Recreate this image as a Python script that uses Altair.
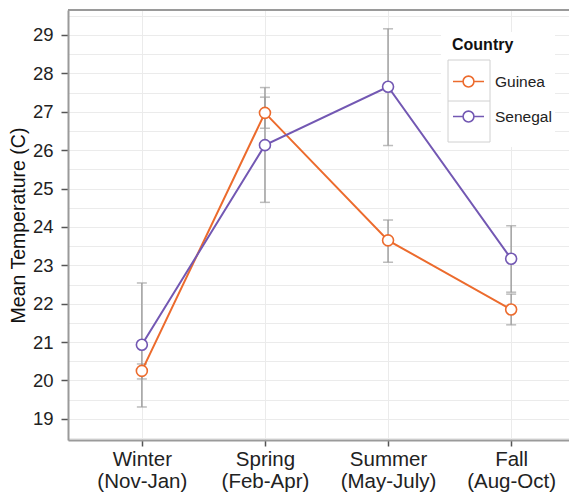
import json
import altair as alt
import pandas as pd

seasons = ["Winter (Nov-Jan)", "Spring (Feb-Apr)", "Summer (May-July)", "Fall (Aug-Oct)"]
guinea_mean = [20.25, 26.97, 23.65, 21.85]
guinea_low = [20.04, 26.57, 23.08, 21.45]
guinea_high = [20.43, 27.38, 24.18, 22.25]
senegal_mean = [20.93, 26.13, 27.65, 23.17]
senegal_low = [19.31, 24.64, 26.12, 22.30]
senegal_high = [22.54, 27.63, 29.16, 24.03]
countries = ["Guinea", "Senegal"]
colors = ["#EC6B2D", "#7358B3"]
y_ticks = list(range(19, 30))

rows = []
for i, s in enumerate(seasons):
    rows.append({"Season": s, "idx": i, "Country": "Guinea", "mean": guinea_mean[i],
                 "low": guinea_low[i], "high": guinea_high[i]})
for i, s in enumerate(seasons):
    rows.append({"Season": s, "idx": i, "Country": "Senegal", "mean": senegal_mean[i],
                 "low": senegal_low[i], "high": senegal_high[i]})
df = pd.DataFrame(rows)

grid_vals = [v / 2 for v in range(37, 60)]
FONT = "Liberation Sans"
BORDER = "#9A9A9A"
W, H = 509, 430

x_axis = alt.Axis(values=list(range(len(seasons))),
                  labelExpr="split(" + json.dumps(seasons) + "[datum.value], ' ')",
                  labelAngle=0, labelFontSize=20.5, labelLineHeight=22, labelColor="#222",
                  labelPadding=3, tickSize=6, tickColor="#555", tickWidth=1.5,
                  grid=True, gridColor="#EBEBEB", gridWidth=1,
                  domain=True, domainColor=BORDER, domainWidth=2,
                  labelFont=FONT, labelOverlap=False, labelFlush=False)
x_scale = alt.Scale(domain=[-0.6, 3.535], nice=False, zero=False)
y_axis = alt.Axis(values=grid_vals, grid=True, gridColor="#EBEBEB", gridWidth=1,
                  labelExpr="datum.value % 1 === 0 ? format(datum.value, 'd') : ''",
                  labelOverlap=False,
                  tickOpacity={"condition": {"test": "datum.value % 1 === 0", "value": 1}, "value": 0},
                  tickSize=7, tickColor="#555", tickWidth=1.5,
                  labelFontSize=18.5, labelColor="#222", labelPadding=8,
                  titleFontSize=19.5, titleFontWeight="normal", titleColor="#111",
                  titlePadding=4, domain=True, domainColor=BORDER, domainWidth=2,
                  labelFont=FONT, titleFont=FONT)
y_scale = alt.Scale(domain=[18.45, 29.65], nice=False, zero=False)
TITLE = "Mean Temperature (C)"


def X():
    return alt.X("idx:Q", title=None, scale=x_scale, axis=x_axis)


def Y(field):
    return alt.Y(field + ":Q", scale=y_scale, title=TITLE, axis=y_axis)


sym = "M-1,0H-0.35M0.35,0H1M0.35,0A0.35,0.35,0,1,1,-0.35,0A0.35,0.35,0,1,1,0.35,0Z"
legend = alt.Legend(title="Country", orient="none", legendX=384, legendY=27,
                    symbolType=sym, symbolSize=961, symbolStrokeWidth=1.6,
                    symbolFillColor="white",
                    titleFontSize=16, titleFontWeight="bold", titleColor="#111",
                    titleFont=FONT, titlePadding=12,
                    labelFontSize=15.5, labelColor="#222", labelFont=FONT,
                    labelOffset=10, rowPadding=9, padding=0)
color_scale = alt.Scale(domain=countries, range=colors)


def S():
    return alt.Stroke("Country:N", scale=color_scale, legend=legend)


base = alt.Chart(df)
one = alt.Chart(pd.DataFrame({"a": [0]}))

legend_bg = one.mark_rect(fill="white").encode(
    x=alt.value(373), x2=alt.value(487), y=alt.value(22), y2=alt.value(137))

top_border = one.mark_rule(color=BORDER, strokeWidth=2).encode(
    x=alt.value(0), x2=alt.value(W), y=alt.value(0))

err = base.mark_rule(color="#A0A0A0", strokeWidth=1.5).encode(
    x=X(), y=Y("low"), y2="high:Q")
cap_lo = base.mark_tick(color="#A0A0A0", orient="horizontal", size=10, thickness=1.5).encode(
    x=X(), y=Y("low"))
cap_hi = base.mark_tick(color="#A0A0A0", orient="horizontal", size=10, thickness=1.5).encode(
    x=X(), y=Y("high"))

lines = base.mark_line(strokeWidth=2).encode(x=X(), y=Y("mean"), stroke=S(),
                                             order="idx:Q")

points = base.mark_point(filled=False, fill="white", fillOpacity=1, size=120,
                         strokeWidth=1.6, opacity=1).encode(x=X(), y=Y("mean"), stroke=S())

boxes = one.mark_rect(fill=None, stroke="#D0D0D0", strokeWidth=1).encode(
    x=alt.value(380), x2=alt.value(422), y=alt.value(50), y2=alt.value(132))
mid = one.mark_rule(color="#D0D0D0", strokeWidth=1).encode(
    x=alt.value(380), x2=alt.value(422), y=alt.value(91))

chart = alt.layer(legend_bg, top_border, err, cap_lo, cap_hi, lines, points, boxes, mid).properties(
    width=W, height=H,
    autosize=alt.AutoSizeParams(type="none"),
    padding={"left": 60, "top": 2, "right": -8, "bottom": 56},
).configure_view(stroke=BORDER, strokeWidth=2).configure(background="white")

chart.save("out.html", embed_options={"renderer": "svg", "actions": False})
